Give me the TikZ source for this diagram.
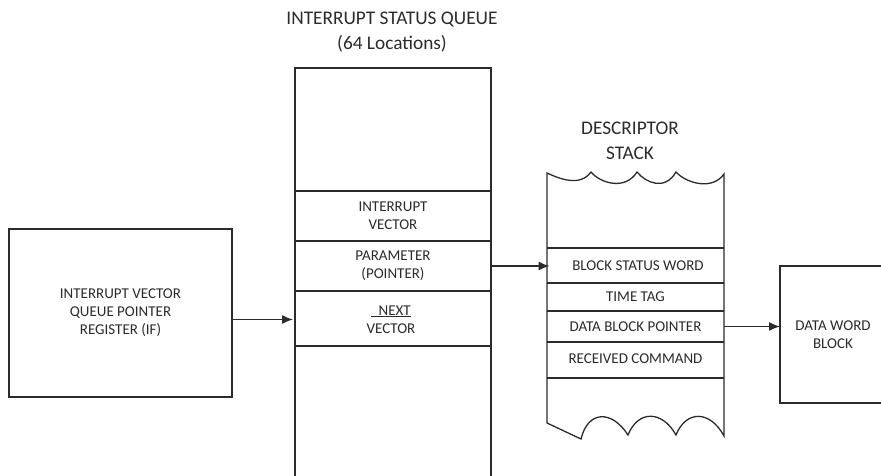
\documentclass[tikz,border=0pt]{standalone}
\usepackage{fontspec}
\setmainfont{Carlito}
\usetikzlibrary{arrows.meta}
\definecolor{ink}{HTML}{2B2B2B}
\tikzset{
  outline/.style={draw=ink, line width=1.3pt},
  cell/.style={inner sep=0pt, outer sep=0pt, align=center, text=ink,
    font=\fontsize{15}{18}\selectfont},
  title/.style={align=center, text=ink, font=\fontsize{19.3}{24.5}\selectfont},
  link/.style={draw=ink, line width=1.3pt, -{Latex[length=11pt,width=9pt]}},
}
\begin{document}
\begin{tikzpicture}[x=1pt,y=-1pt]
\useasboundingbox (0,0) rectangle (881,476);

% headings
\node[title] (qtitle) at (392,32) {INTERRUPT STATUS QUEUE\\(64 Locations)};
\node[title] (stitle) at (630,141) {DESCRIPTOR\\STACK};

% queue pointer register
\node[cell, draw=ink, line width=1.3pt, minimum width=223pt, minimum height=168pt]
  (reg) at (120.5,313) {INTERRUPT VECTOR\\QUEUE POINTER\\REGISTER (IF)};

% interrupt status queue: open-ended column with entry rows
\draw[outline] (295,476) -- (295,68) -- (491,68) -- (491,476);
\foreach \y in {191,241,291,346} \draw[outline] (295,\y) -- (491,\y);
\node[cell, minimum width=196pt, minimum height=50pt] (ivec) at (393,216) {INTERRUPT\\VECTOR};
\node[cell, minimum width=196pt, minimum height=50pt] (param) at (393,266) {PARAMETER\\(POINTER)};
\node[cell, minimum width=196pt, minimum height=55pt] (next) at (391,319.5) {\underline{\hspace{0.5em}NEXT}\\VECTOR};

% descriptor stack with torn top and bottom edges
\draw[outline] (547,423) -- (547,173)
  .. controls (560,179) and (580,187) .. (591,172)
  .. controls (600,183) and (625,191) .. (637,172)
  .. controls (646,183) and (665,191) .. (676,172)
  .. controls (686,183) and (712,191) .. (724,174)
  -- (724,436)
  .. controls (710,410) and (686,410) .. (676,435)
  .. controls (662,410) and (638,410) .. (628,435)
  .. controls (612,410) and (588,410) .. (581,439)
  -- cycle;
\foreach \y in {248,283,311,342,378} \draw[outline] (547,\y) -- (724,\y);
\node[cell, minimum width=177pt, minimum height=35pt] (bsw) at (638,265.5) {BLOCK STATUS WORD};
\node[cell, minimum width=177pt, minimum height=28pt] (ttag) at (635.5,297) {TIME TAG};
\node[cell, minimum width=177pt, minimum height=31pt] (dbp) at (635.5,326.5) {DATA BLOCK POINTER};
\node[cell, minimum width=177pt, minimum height=36pt] (rcmd) at (635.5,359) {RECEIVED COMMAND};

% data word block, running off the right edge
\node[cell, minimum width=106pt, minimum height=137pt] (data) at (833,334.5) {DATA WORD\\BLOCK};
\draw[outline] (881,266) -- (data.north west) -- (data.south west) -- (881,403);

% pointers
\draw[link] (reg.east |- next.west) -- (next.west);
\draw[link] (param.east) -- (param.east -| bsw.west);
\draw[link] (dbp.east) -- (dbp.east -| data.west);
\end{tikzpicture}
\end{document}
